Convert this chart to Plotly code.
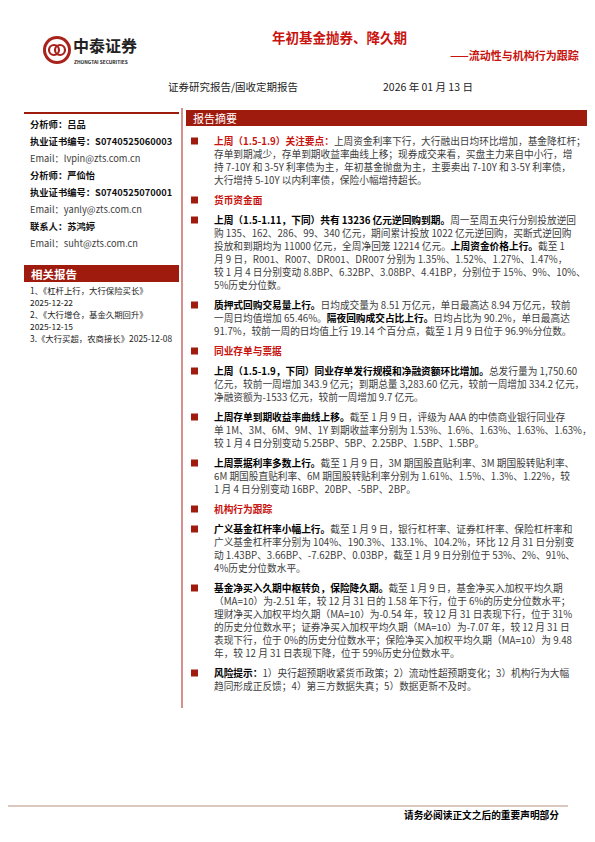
import plotly.graph_objects as go

RED = "#9E1B0E"
TRED = "#C8140F"
GRAY = "#3c3c3c"
FONT = "Noto Sans CJK SC"

title = "年初基金抛券、降久期"
subtitle = "——流动性与机构行为跟踪"
report_type = "证券研究报告/固收定期报告"
report_date = "2026 年 01 月 13 日"

analysts = [
    "<b>分析师：吕品</b>",
    "<b>执业证书编号：S0740525060003</b>",
    "Email：lvpin@zts.com.cn",
    "<b>分析师：严佡怡</b>",
    "<b>执业证书编号：S0740525070001</b>",
    "Email：yanly@zts.com.cn",
    "<b>联系人：苏鸿婷</b>",
    "Email：suht@zts.com.cn",
]
related = [
    "1、《杠杆上行，大行保险买长》",
    "2025-12-22",
    "2、《大行增仓，基金久期回升》",
    "2025-12-15",
    "3.《大行买超，农商接长》2025-12-08",
]

# (kind, lines) — kind: "p" paragraph with bullet, "h" red heading
blocks = [
    ("p", ["<span style='color:%s'><b>上周（1.5-1.9）关注要点：</b></span>上周资金利率下行，大行融出日均环比增加，基金降杠杆；" % TRED,
           "存单到期减少，存单到期收益率曲线上移；现券成交来看，买盘主力来自中小行，增",
           "持 7-10Y 和 3-5Y 利率债为主，年初基金抛盘为主，主要卖出 7-10Y 和 3-5Y 利率债，",
           "大行增持 5-10Y 以内利率债，保险小幅增持超长。"]),
    ("h", ["货币资金面"]),
    ("p", ["<b>上周（1.5-1.11，下同）共有 13236 亿元逆回购到期。</b>周一至周五央行分别投放逆回",
           "购 135、162、286、99、340 亿元，期间累计投放 1022 亿元逆回购，买断式逆回购",
           "投放和到期均为 11000 亿元，全周净回笼 12214 亿元。<b>上周资金价格上行。</b>截至 1",
           "月 9 日，R001、R007、DR001、DR007 分别为 1.35%、1.52%、1.27%、1.47%，",
           "较 1 月 4 日分别变动 8.8BP、6.32BP、3.08BP、4.41BP，分别位于 15%、9%、10%、",
           "5%历史分位数。"]),
    ("p", ["<b>质押式回购交易量上行。</b>日均成交量为 8.51 万亿元，单日最高达 8.94 万亿元，较前",
           "一周日均值增加 65.46%。<b>隔夜回购成交占比上行。</b>日均占比为 90.2%，单日最高达",
           "91.7%，较前一周的日均值上行 19.14 个百分点，截至 1 月 9 日位于 96.9%分位数。"]),
    ("h", ["同业存单与票据"]),
    ("p", ["<b>上周（1.5-1.9，下同）同业存单发行规模和净融资额环比增加。</b>总发行量为 1,750.60",
           "亿元，较前一周增加 343.9 亿元；到期总量 3,283.60 亿元，较前一周增加 334.2 亿元，",
           "净融资额为-1533 亿元，较前一周增加 9.7 亿元。"]),
    ("p", ["<b>上周存单到期收益率曲线上移。</b>截至 1 月 9 日，评级为 AAA 的中债商业银行同业存",
           "单 1M、3M、6M、9M、1Y 到期收益率分别为 1.53%、1.6%、1.63%、1.63%、1.63%，",
           "较 1 月 4 日分别变动 5.25BP、5BP、2.25BP、1.5BP、1.5BP。"]),
    ("p", ["<b>上周票据利率多数上行。</b>截至 1 月 9 日，3M 期国股直贴利率、3M 期国股转贴利率、",
           "6M 期国股直贴利率、6M 期国股转贴利率分别为 1.61%、1.5%、1.3%、1.22%，较",
           "1 月 4 日分别变动 16BP、20BP、-5BP、2BP。"]),
    ("h", ["机构行为跟踪"]),
    ("p", ["<b>广义基金杠杆率小幅上行。</b>截至 1 月 9 日，银行杠杆率、证券杠杆率、保险杠杆率和",
           "广义基金杠杆率分别为 104%、190.3%、133.1%、104.2%，环比 12 月 31 日分别变",
           "动 1.43BP、3.66BP、-7.62BP、0.03BP，截至 1 月 9 日分别位于 53%、2%、91%、",
           "4%历史分位数水平。"]),
    ("p", ["<b>基金净买入久期中枢转负，保险降久期。</b>截至 1 月 9 日，基金净买入加权平均久期",
           "（MA=10）为-2.51 年，较 12 月 31 日的 1.58 年下行，位于 6%的历史分位数水平；",
           "理财净买入加权平均久期（MA=10）为-0.54 年，较 12 月 31 日表现下行，位于 31%",
           "的历史分位数水平；证券净买入加权平均久期（MA=10）为-7.07 年，较 12 月 31 日",
           "表现下行，位于 0%的历史分位数水平；保险净买入加权平均久期（MA=10）为 9.48",
           "年，较 12 月 31 日表现下降，位于 59%历史分位数水平。"]),
    ("p", ["<b>风险提示：</b>1）央行超预期收紧货币政策；2）流动性超预期变化；3）机构行为大幅",
           "趋同形成正反馈；4）第三方数据失真；5）数据更新不及时。"]),
]
footer = "请务必阅读正文之后的重要声明部分"

fig = go.Figure()
ann = []
shapes = []


def text(x, y, s, size=9.7, color=GRAY, anchor="left"):
    ann.append(dict(x=x, y=y, text=s, showarrow=False, xanchor=anchor, yanchor="middle",
                    font=dict(family=FONT, size=size, color=color)))


# header / logo
shapes.append(dict(type="circle", x0=35, y0=28, x1=63, y1=56, fillcolor="#A8231B", line_width=0))
shapes.append(dict(type="circle", x0=38, y0=31, x1=60, y1=53, fillcolor="white", line_width=0))
shapes.append(dict(type="circle", x0=41, y0=37, x1=51, y1=47, line=dict(color="#A8231B", width=2.2)))
shapes.append(dict(type="circle", x0=47, y0=37, x1=57, y1=47, line=dict(color="#A8231B", width=2.2)))
text(63, 37, "<b>中泰证券</b>", size=16, color="#222")
text(64, 53, "<b>ZHONGTAI SECURITIES</b>", size=4.8, color="#222")
text(331, 29, "<b>" + title + "</b>", size=13.5, color=TRED, anchor="center")
text(573, 47, "<b>" + subtitle + "</b>", size=11, color=TRED, anchor="right")
text(158, 78, report_type, size=10.5, color="#222")
text(373, 78, report_date, size=10.5, color="#222")

# left column
shapes.append(dict(type="line", x0=16, x1=171, y0=105, y1=105, line=dict(color=RED, width=2)))
y = 116
for s in analysts:
    text(20, y, s, size=9.3, color="#111" if s.startswith("<b>") else GRAY)
    y += 17
shapes.append(dict(type="rect", x0=16, x1=171, y0=257, y1=274, fillcolor=RED, line_width=0))
text(21, 266, "<b>相关报告</b>", size=11.5, color="white")
y = 282
for s in related:
    text(20, y, s, size=8.4, color="#222")
    y += 12

# main column
shapes.append(dict(type="rect", x0=178, x1=579, y0=102, y1=118, fillcolor=RED, line_width=0))
text(183, 110, "报告摘要", size=11, color="white")

y = 133
for kind, lines in blocks:
    shapes.append(dict(type="rect", x0=183, x1=190, y0=y - 3.5, y1=y + 3.5, fillcolor=RED, line_width=0))
    if kind == "h":
        text(204, y, "<b>" + lines[0] + "</b>", color=TRED)
        y += 20
        continue
    for s in lines:
        text(204, y, s.replace("<b>", "<b style='color:#000'>") if "span" not in s else s)
        y += 13.0
    y += 7

# divider down to the end of the summary text
shapes.append(dict(type="line", x0=174, x1=174, y0=100, y1=y + 2, line=dict(color="#A8231B", width=1)))

# footer
shapes.append(dict(type="line", x0=0, x1=560, y0=798, y1=798, line=dict(color="#DCC8BE", width=2)))
text(553, 807, "<b>" + footer + "</b>", color="#000", anchor="right")

fig.update_layout(width=595, height=842, margin=dict(l=0, r=0, t=0, b=0),
                  paper_bgcolor="white", plot_bgcolor="white",
                  xaxis=dict(range=[0, 595], visible=False, fixedrange=True),
                  yaxis=dict(range=[842, 0], visible=False, fixedrange=True),
                  annotations=ann, shapes=shapes, showlegend=False)
fig.write_html("out.html")
